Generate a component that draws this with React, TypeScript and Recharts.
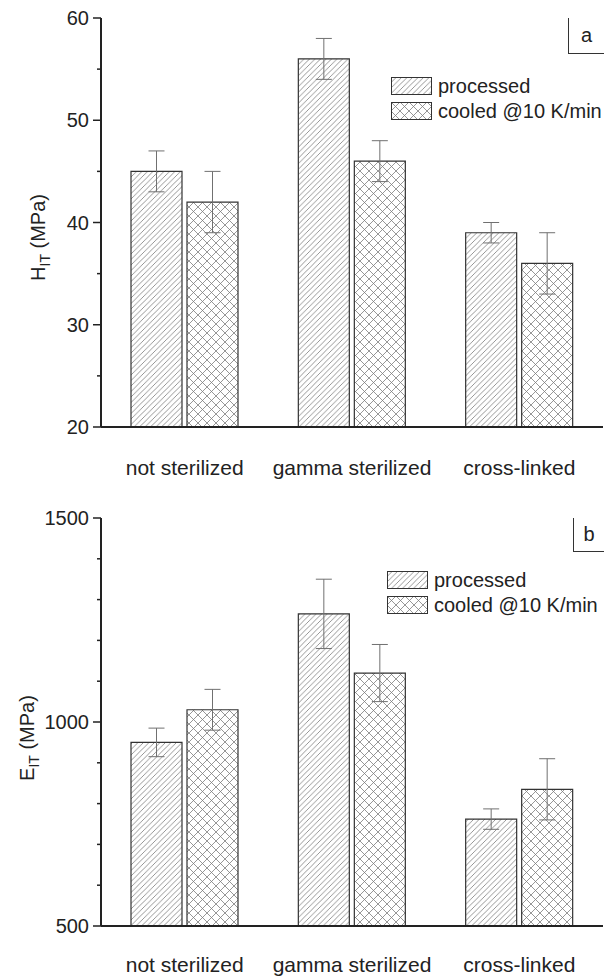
import React from 'react';
import { BarChart, Bar, XAxis, YAxis, ErrorBar, Legend } from 'recharts';

const categories = ['not sterilized', 'gamma sterilized', 'cross-linked'];
const seriesNames = ['processed', 'cooled @10 K/min'];

const hProcessed = [45, 56, 39];
const hProcessedErr = [2, 2, 1];
const hCooled = [42, 46, 36];
const hCooledErr = [3, 2, 3];

const eProcessed = [950, 1265, 762];
const eProcessedErr = [35, 85, 25];
const eCooled = [1030, 1120, 835];
const eCooledErr = [50, 70, 75];

const hTicks = [20, 25, 30, 35, 40, 45, 50, 55, 60];
const hMajor = [20, 30, 40, 50, 60];
const eTicks = [500, 600, 700, 800, 900, 1000, 1100, 1200, 1300, 1400, 1500];
const eMajor = [500, 1000, 1500];

const FONT = "'Liberation Sans', Arial, Helvetica, sans-serif";
const INK = '#222';
const HATCH = '#7c7c7c';

const hData = categories.map((c, i) => ({
  cat: c, p: hProcessed[i], pe: hProcessedErr[i], c2: hCooled[i], ce: hCooledErr[i],
}));
const eData = categories.map((c, i) => ({
  cat: c, p: eProcessed[i], pe: eProcessedErr[i], c2: eCooled[i], ce: eCooledErr[i],
}));

function Patterns({ prefix }: { prefix: string }) {
  return (
    <defs>
      <pattern id={`${prefix}-hatch`} patternUnits="userSpaceOnUse" width={5.5} height={5.5}>
        <path d="M-1,1 l2,-2 M0,5.5 l5.5,-5.5 M4.5,6.5 l2,-2" stroke={HATCH} strokeWidth={0.8} />
      </pattern>
      <pattern id={`${prefix}-cross`} patternUnits="userSpaceOnUse" width={9} height={9}>
        <path d="M0,0 L9,9 M9,0 L0,9" stroke={HATCH} strokeWidth={0.8} />
      </pattern>
    </defs>
  );
}

function makeYTick(majors: number[]) {
  return (props: any) => {
    const { x, y, payload } = props;
    const v = payload.value;
    const major = majors.includes(v);
    const axisX = x + 12;
    return (
      <g>
        <line x1={axisX - (major ? 8 : 4)} x2={axisX} y1={y} y2={y} stroke={INK} strokeWidth={1.5} />
        {major && (
          <text x={x} y={y} dy="0.35em" textAnchor="end" fontSize={20} fontFamily={FONT} fill={INK}>
            {v}
          </text>
        )}
      </g>
    );
  };
}

function makeXTick(shift: number) {
  return (props: any) => {
    const { x, y, payload } = props;
    return (
      <text x={x} y={y + shift} dy="0.35em" textAnchor="middle" fontSize={21} fontFamily={FONT} fill={INK}>
        {payload.value}
      </text>
    );
  };
}

function makeYLabel(letter: string, baseX: number, shift: number) {
  return (props: any) => {
    const vb = props.viewBox || { x: 0, y: 0, width: 0, height: 0 };
    const cx = vb.x + baseX;
    const cy = vb.y + vb.height / 2 + shift;
    return (
      <text
        transform={`translate(${cx}, ${cy}) rotate(-90)`}
        x={0}
        y={0}
        textAnchor="middle"
        fontSize={20}
        fontFamily={FONT}
        fill={INK}
      >
        {letter}
        <tspan fontSize={14} dy={5}>IT</tspan>
        <tspan dy={-5}> (MPa)</tspan>
      </text>
    );
  };
}

function makeLegend(prefix: string) {
  return () => (
    <div style={{ fontFamily: FONT, fontSize: 20, color: INK, lineHeight: '25px' }}>
      {seriesNames.map((n, i) => (
        <div key={n} style={{ display: 'flex', alignItems: 'center', height: 25, whiteSpace: 'nowrap' }}>
          <svg width={41} height={19} style={{ marginRight: 6, display: 'block' }}>
            <rect
              x={0.5}
              y={0.5}
              width={40}
              height={17}
              fill={`url(#${prefix}-${i === 0 ? 'hatch' : 'cross'})`}
              stroke="#333"
              strokeWidth={1}
            />
          </svg>
          <span>{n}</span>
        </div>
      ))}
    </div>
  );
}

function Panel(props: {
  data: any[];
  prefix: string;
  height: number;
  marginTop: number;
  xHeight: number;
  domain: [number, number];
  ticks: number[];
  majors: number[];
  letter: string;
  labelX: number;
  labelShift: number;
  xShift: number;
  legendLeft: number;
  legendTop: number;
}) {
  const { data, prefix } = props;
  return (
    <BarChart
      width={604}
      height={props.height}
      data={data}
      margin={{ top: props.marginTop, right: 1, left: 0, bottom: 0 }}
      barSize={51}
      barGap={5}
    >
      <Patterns prefix={prefix} />
      <XAxis
        dataKey="cat"
        height={props.xHeight}
        axisLine={{ stroke: INK, strokeWidth: 2 }}
        tickLine={false}
        tick={makeXTick(props.xShift)}
        interval={0}
      />
      <XAxis
        xAxisId="top"
        dataKey="cat"
        orientation="top"
        height={0}
        axisLine={{ stroke: INK, strokeWidth: 2 }}
        tick={false}
        tickLine={false}
      />
      <YAxis
        width={101}
        domain={props.domain}
        ticks={props.ticks}
        interval={0}
        type="number"
        allowDataOverflow
        axisLine={{ stroke: INK, strokeWidth: 2 }}
        tickLine={false}
        tickSize={7}
        tickMargin={5}
        tick={makeYTick(props.majors)}
        label={{ content: makeYLabel(props.letter, props.labelX, props.labelShift) }}
      />
      <YAxis
        yAxisId="right"
        orientation="right"
        width={0}
        domain={[0, 1]}
        type="number"
        tick={false}
        tickLine={false}
        axisLine={{ stroke: '#555', strokeWidth: 1 }}
      />
      <Legend
        layout="vertical"
        align="center"
        verticalAlign="middle"
        content={makeLegend(prefix)}
        wrapperStyle={{ left: props.legendLeft, top: props.legendTop, width: 'auto' }}
      />
      <Bar
        dataKey="p"
        name={seriesNames[0]}
        fill={`url(#${prefix}-hatch)`}
        stroke="#333"
        strokeWidth={1.2}
        isAnimationActive={false}
      >
        <ErrorBar dataKey="pe" width={8} stroke="#707070" strokeWidth={1} direction="y" />
      </Bar>
      <Bar
        dataKey="c2"
        name={seriesNames[1]}
        fill={`url(#${prefix}-cross)`}
        stroke="#333"
        strokeWidth={1.2}
        isAnimationActive={false}
      >
        <ErrorBar dataKey="ce" width={8} stroke="#707070" strokeWidth={1} direction="y" />
      </Bar>
    </BarChart>
  );
}

function Tag({ text, left, top, width, height }: { text: string; left: number; top: number; width: number; height: number }) {
  return (
    <div
      style={{
        position: 'absolute',
        left,
        top,
        width,
        height,
        borderLeft: '1px solid #333',
        borderBottom: '1px solid #333',
        boxSizing: 'border-box',
        display: 'flex',
        alignItems: 'center',
        justifyContent: 'center',
        fontFamily: FONT,
        fontSize: 20,
        color: INK,
      }}
    >
      {text}
    </div>
  );
}

export default function App() {
  return (
    <div style={{ position: 'absolute', left: 0, top: 0, width: 604, height: 977, background: '#fff' }}>
      <div style={{ position: 'absolute', left: 0, top: 0 }}>
        <Panel
          data={hData}
          prefix="h"
          height={490}
          marginTop={18}
          xHeight={63}
          domain={[20, 60]}
          ticks={hTicks}
          majors={hMajor}
          letter="H"
          labelX={45}
          labelShift={15}
          xShift={33}
          legendLeft={391}
          legendTop={74}
        />
        <Tag text="a" left={568} top={18} width={36} height={36} />
      </div>
      <div style={{ position: 'absolute', left: 0, top: 490 }}>
        <Panel
          data={eData}
          prefix="e"
          height={487}
          marginTop={28}
          xHeight={51}
          domain={[500, 1500]}
          ticks={eTicks}
          majors={eMajor}
          letter="E"
          labelX={34}
          labelShift={16}
          xShift={31}
          legendLeft={387}
          legendTop={78}
        />
        <Tag text="b" left={573} top={28} width={31} height={34} />
      </div>
    </div>
  );
}
